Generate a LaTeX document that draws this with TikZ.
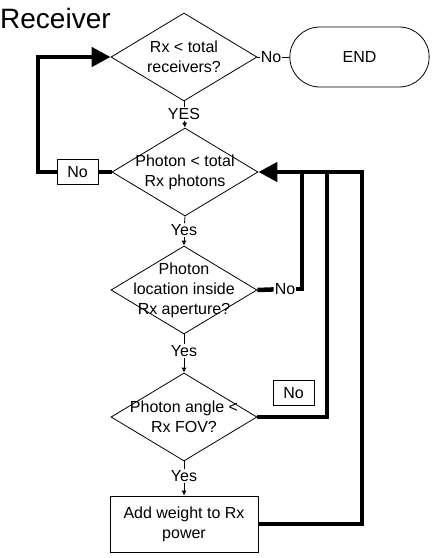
\documentclass[tikz,border=0pt]{standalone}
\usepackage{fontspec}
\setmainfont{Liberation Sans}
\usetikzlibrary{shapes.geometric,shapes.misc,arrows.meta}

\tikzset{
  dec/.style={diamond,draw,line width=0.8pt,inner sep=0pt,minimum width=146pt,minimum height=88pt},
  txt/.style={align=center,inner sep=0pt},
  proc/.style={rectangle,draw,line width=0.8pt,align=center,minimum width=148pt,minimum height=56pt},
  term/.style={rounded rectangle,draw,line width=0.8pt,minimum width=146pt,minimum height=60pt},
  nobox/.style={rectangle,draw,line width=0.8pt,minimum width=41pt,minimum height=25pt,inner sep=0pt},
  lbl/.style={inner sep=1pt},
  flow/.style={line width=4.5pt},
  link/.style={line width=0.8pt},
  small/.style={-{Latex[length=5pt,width=5pt]}},
  big/.style={-{Triangle[length=19pt,width=19pt]}}
}

\begin{document}
\begin{tikzpicture}[x=1pt,y=-1pt,font=\fontsize{16}{20}\selectfont]
    \useasboundingbox (0,0) rectangle (436,558);

    % Title
    \node[anchor=base west,inner sep=0pt,font=\fontsize{28}{32}\selectfont] (title) at (0,28) {Receiver};

    % Decisions
    \node[dec,label={[txt]center:Rx < total\\receivers?}] (d1) at (184,57) {};
    \node[dec,label={[txt]center:Photon < total\\Rx photons}] (d2) at (185,172) {};
    \node[dec,label={[txt]center:Photon\\location inside\\Rx aperture?}] (d3) at (184,290) {};
    \node[dec,label={[txt]center:Photon angle <\\Rx FOV?}] (d4) at (184,417) {};

    % Process and end
    \node[proc] (add) at (184,524) {Add weight to Rx\\power};
    \node[term] (end) at (359.5,57) {END};

    % Labels
    \node[lbl] (yes1) at (184,114) {YES};
    \node[lbl] (yes2) at (184,230) {Yes};
    \node[lbl] (yes3) at (184,351) {Yes};
    \node[lbl] (yes4) at (184,476) {Yes};
    \node[lbl] (no1) at (271,57) {No};
    \node[lbl] (no3) at (285,289) {No};
    \node[nobox] (no2) at (77.5,172) {No};
    \node[nobox] (no4) at (293.5,393) {No};

    % Junctions
    \coordinate (lc) at (38,172);
    \coordinate (j1) at (302,172);
    \coordinate (j2) at (327,172);
    \coordinate (j3) at (362,172);

    % Thin links
    \draw[link] (d1.south) -- (yes1);
    \draw[link,small] (yes1) -- (d2.north);
    \draw[link] (d2.south) -- (yes2);
    \draw[link,small] (yes2) -- (d3.north);
    \draw[link] (d3.south) -- (yes3);
    \draw[link,small] (yes3) -- (d4.north);
    \draw[link] (d4.south) -- (yes4);
    \draw[link,small] (yes4) -- (add.north);
    \draw[link] (d1.east) -- (no1);
    \draw[link] (no1) -- (end);

    % Loops
    \draw[flow] (d2.west) -- (no2);
    \draw[flow,big] (no2) -- (lc) |- (d1.west);
    \draw[flow] (d3.east) -- (no3);
    \draw[flow] (no3.east) -| (j1);
    \draw[flow] (d4.east) -| (j2);
    \draw[flow,big] (add.east) -| (j3) -- (d2.east);
  \end{tikzpicture}
\end{document}
